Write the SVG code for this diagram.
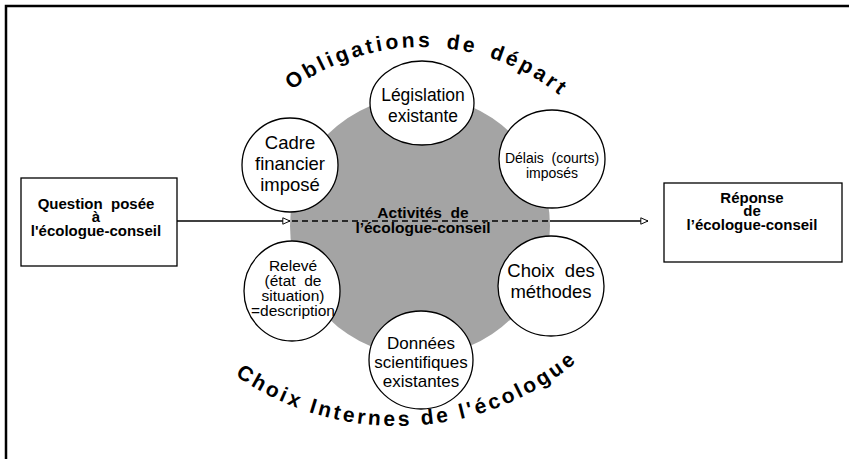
<svg xmlns="http://www.w3.org/2000/svg" width="849" height="459" viewBox="0 0 849 459">
<style>
.frame{stroke:#000;stroke-width:2.5;fill:none}
.node{fill:#fff;stroke:#000;stroke-width:1.3}
.box{fill:#fff;stroke:#000;stroke-width:1.3}
.t{font-family:"Liberation Sans",Arial,sans-serif;fill:#000;text-anchor:middle}
.b{font-weight:bold}
.arc{font-family:"Liberation Sans",Arial,sans-serif;font-weight:bold;font-size:21px;fill:#000}
.line{stroke:#000;stroke-width:1.3;fill:none}
.dash{stroke:#000;stroke-width:1.3;fill:none;stroke-dasharray:6 4}
</style>
<defs>
<marker id="open" viewBox="0 0 10 10" refX="9.5" refY="5" markerWidth="10" markerHeight="8" markerUnits="userSpaceOnUse" orient="auto">
<path d="M0.5,1 L9.5,5 L0.5,9 Z" fill="#fff" stroke="#000" stroke-width="1.2"/>
</marker>
<path id="topArc" d="M231.5,157 A220,220 0 0 1 618,167.1"/>
<path id="botArc" d="M151,284 A284,284 0 0 0 654.4,262"/>
</defs>
<rect width="849" height="459" fill="#fff"/>
<path class="frame" d="M6,459 L6,6 L849,6"/>

<g id="activites">
<circle cx="420" cy="226" r="130" fill="#a4a4a4"/>
</g>

<g id="connectors">
<line class="line" x1="177" y1="221" x2="290" y2="221" marker-end="url(#open)"/>
<line class="dash" x1="292" y1="221" x2="550" y2="221"/>
<line class="line" x1="550" y1="221" x2="648" y2="221" marker-end="url(#open)"/>
</g>

<g id="activites-label">
<text class="t b" x="423" y="218" font-size="15.5">Activités&#160; de</text>
<text class="t b" x="423" y="233" font-size="15.5">l’écologue-conseil</text>
</g>

<g id="question">
<rect class="box" x="21" y="178" width="156" height="88"/>
<text class="t b" x="96" y="209" font-size="15">Question&#160; posée</text>
<text class="t b" x="96" y="222" font-size="15">à</text>
<text class="t b" x="96" y="236" font-size="15">l'écologue-conseil</text>
</g>

<g id="reponse">
<rect class="box" x="664" y="183" width="178" height="79"/>
<text class="t b" x="752" y="203" font-size="15">Réponse</text>
<text class="t b" x="752" y="216" font-size="15">de</text>
<text class="t b" x="752" y="230" font-size="15">l’écologue-conseil</text>
</g>

<g id="legislation">
<ellipse class="node" cx="422" cy="103" rx="52" ry="42"/>
<text class="t" x="423" y="101" font-size="17.5">Législation</text>
<text class="t" x="423" y="122" font-size="17.5">existante</text>
</g>

<g id="cadre">
<ellipse class="node" cx="290" cy="165" rx="48" ry="47"/>
<text class="t" x="290" y="149" font-size="18.5">Cadre</text>
<text class="t" x="290" y="170" font-size="18.5">financier</text>
<text class="t" x="290" y="191" font-size="18.5">imposé</text>
</g>

<g id="delais">
<ellipse class="node" cx="552" cy="159" rx="53" ry="49"/>
<text class="t" x="552" y="163" font-size="14">Délais&#160; (courts)</text>
<text class="t" x="552" y="178" font-size="14">imposés</text>
</g>

<g id="releve">
<ellipse class="node" cx="292" cy="291" rx="48" ry="50"/>
<text class="t" x="293" y="271" font-size="15.5">Relevé</text>
<text class="t" x="293" y="286" font-size="15.5">(état&#160; de</text>
<text class="t" x="293" y="301" font-size="15.5">situation)</text>
<text class="t" x="293" y="316" font-size="15.5">=description</text>
</g>

<g id="choix">
<ellipse class="node" cx="551" cy="286" rx="53" ry="50"/>
<text class="t" x="551" y="277" font-size="18.5">Choix&#160; des</text>
<text class="t" x="551" y="298" font-size="18.5">méthodes</text>
</g>

<g id="donnees">
<ellipse class="node" cx="421" cy="360" rx="52" ry="49"/>
<text class="t" x="421" y="349" font-size="17">Données</text>
<text class="t" x="421" y="368" font-size="17">scientifiques</text>
<text class="t" x="421" y="387" font-size="17">existantes</text>
</g>

<g id="obligations">
<text class="arc" letter-spacing="3.2" word-spacing="4"><textPath href="#topArc" startOffset="50%" text-anchor="middle">Obligations de départ</textPath></text>
</g>

<g id="choix-internes">
<text class="arc" letter-spacing="3"><textPath href="#botArc" startOffset="50%" text-anchor="middle">Choix Internes de l'écologue</textPath></text>
</g>
</svg>
